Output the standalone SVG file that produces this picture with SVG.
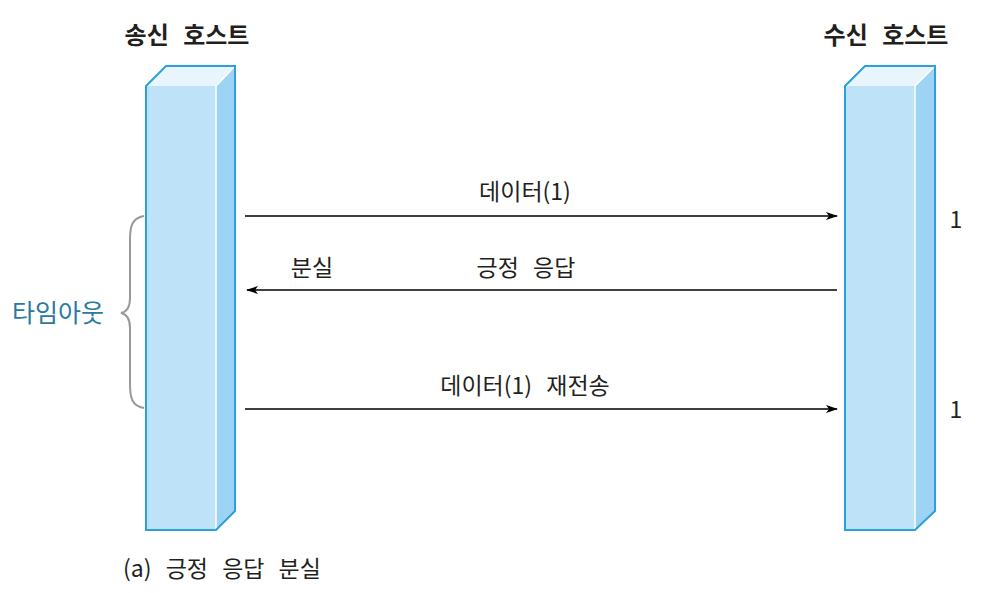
<svg xmlns="http://www.w3.org/2000/svg" width="997" height="593" viewBox="0 0 997 593">
<style>
text{font-family:"Noto Sans CJK KR","Noto Sans",sans-serif;font-size:23px;fill:#231f20;word-spacing:9px}
.title{font-weight:bold;font-size:24px}
.front{fill:#bee3f8}
.side{fill:#9dd4f5}
.top{fill:#e8f5fd}
.edge{fill:none;stroke:#2aa0dc;stroke-width:2;stroke-linejoin:miter}
.inner{fill:none;stroke:#ffffff;stroke-width:1.5}
.conn{stroke:#000;stroke-width:1.3;fill:none}
</style>
<defs>
<marker id="ah" viewBox="0 0 12 8" refX="11" refY="4" markerWidth="12" markerHeight="8" markerUnits="userSpaceOnUse" orient="auto">
<path d="M0,0 L12,4 L0,8 L3,4 Z" fill="#000"/>
</marker>
</defs>
<g id="sender">
<rect class="front" x="146" y="86" width="70" height="444"/>
<polygon class="side" points="216,86 235,66 235,511 216,530"/>
<polygon class="top" points="146,86 166,66 235,66 216,86"/>
<line class="inner" x1="216" y1="86" x2="216" y2="530"/>
<line class="inner" x1="216" y1="86" x2="235" y2="66"/>
<path class="edge" d="M146,86 L166,66 L235,66 L235,511 L216,530 L146,530 Z"/>
<text class="title" x="187" y="44" text-anchor="middle">송신 호스트</text>
</g>
<g id="receiver">
<rect class="front" x="845" y="86" width="70" height="444"/>
<polygon class="side" points="915,86 935,66 935,511 915,530"/>
<polygon class="top" points="845,86 865,66 935,66 915,86"/>
<line class="inner" x1="915" y1="86" x2="915" y2="530"/>
<line class="inner" x1="915" y1="86" x2="935" y2="66"/>
<path class="edge" d="M845,86 L865,66 L935,66 L935,511 L915,530 L845,530 Z"/>
<text class="title" x="886" y="44" text-anchor="middle">수신 호스트</text>
</g>
<g id="timeout">
<path d="M144,216 C132,218 130,226 130,240 L130,298 C130,308 126,312 121,313 C126,314 130,318 130,328 L130,384 C130,398 132,406 144,408" fill="none" stroke="#999" stroke-width="2"/>
<text x="58" y="322" text-anchor="middle" style="fill:#2a7aa0;font-size:25px">타임아웃</text>
</g>
<g id="connectors">
<line class="conn" x1="245" y1="216" x2="837" y2="216" marker-end="url(#ah)"/>
<line class="conn" x1="837" y1="290" x2="247" y2="290" marker-end="url(#ah)"/>
<line class="conn" x1="245" y1="409" x2="837" y2="409" marker-end="url(#ah)"/>
</g>
<g id="labels">
<text x="525" y="200" text-anchor="middle">데이터(1)</text>
<text x="312" y="276" text-anchor="middle">분실</text>
<text x="526" y="276" text-anchor="middle">긍정 응답</text>
<text x="525" y="394" text-anchor="middle">데이터(1) 재전송</text>
<text x="956" y="228" text-anchor="middle">1</text>
<text x="956" y="418" text-anchor="middle">1</text>
<text x="222" y="577" text-anchor="middle">(a) 긍정 응답 분실</text>
</g>
</svg>
